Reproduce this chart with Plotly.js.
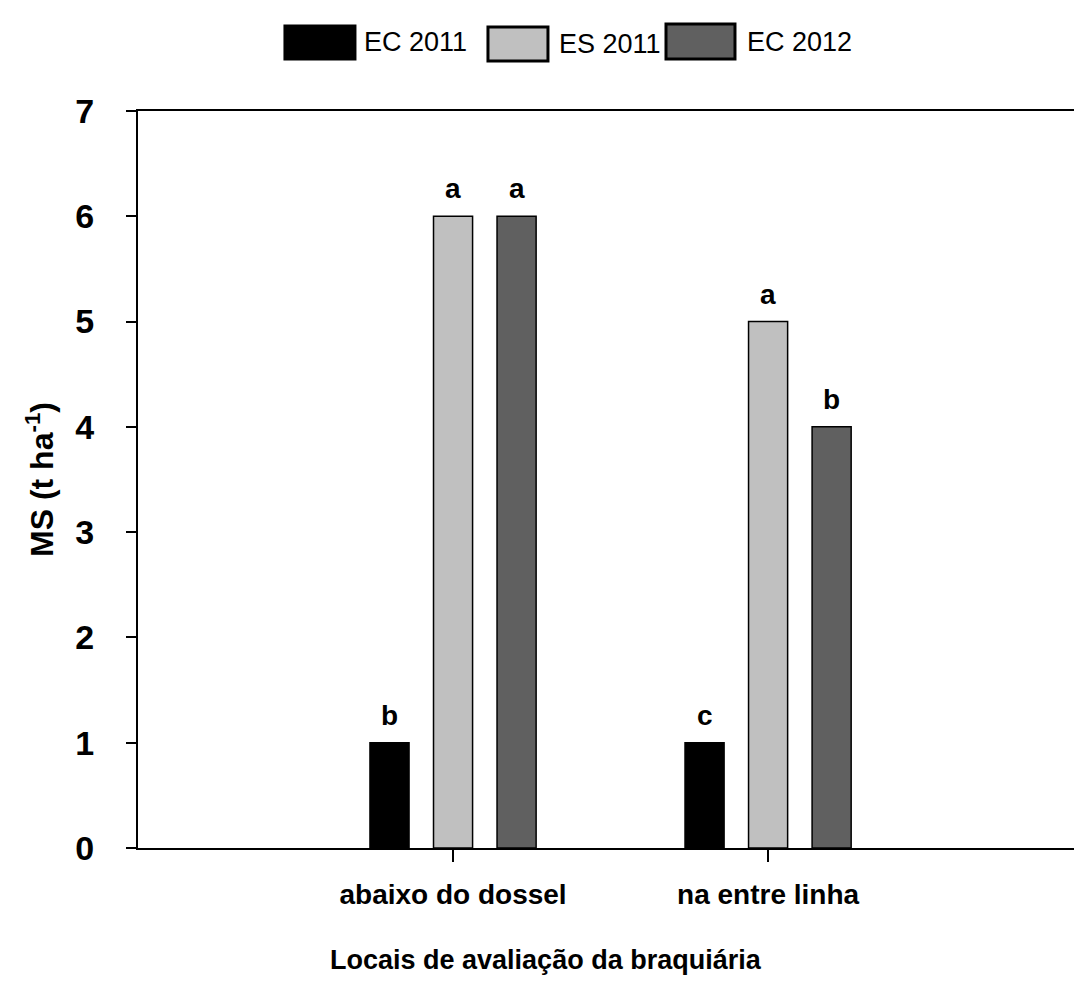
<!DOCTYPE html>
<html>
<head>
<meta charset="utf-8">
<script src="https://cdn.plot.ly/plotly-3.0.1.min.js"></script>
<style>html,body{margin:0;padding:0;background:#fff;}</style>
</head>
<body>
<div id="chart" style="width:1074px;height:1001px;"></div>
<script>
var categories = ["abaixo do dossel", "na entre linha"];
var seriesNames = ["EC 2011", "ES 2011", "EC 2012"];
var ec2011 = [1, 1];
var es2011 = [6, 5];
var ec2012 = [6, 4];
var lettersEC2011 = ["b", "c"];
var lettersES2011 = ["a", "a"];
var lettersEC2012 = ["a", "b"];
var seriesColors = ["#000000", "#c0c0c0", "#606060"];
var yTicks = [0, 1, 2, 3, 4, 5, 6, 7];
var xTitle = "Locais de avaliação da braquiária";
var yTitle = "MS (t ha<sup>-1</sup>)";

var values = [ec2011, es2011, ec2012];
var letters = [lettersEC2011, lettersES2011, lettersEC2012];
var FONT = "'Liberation Sans', Arial, sans-serif";
var BARGAP = 0.395, BARGROUPGAP = 0.385;
var slot = (1 - BARGAP) / seriesNames.length;

var traces = seriesNames.map(function (name, i) {
  return {
    type: "bar",
    name: name,
    x: categories,
    y: values[i],
    marker: {color: seriesColors[i], line: {color: "#000", width: 1.5}},
    showlegend: false,
    hoverinfo: "x+y+name"
  };
});

var shapes = [];
var annotations = [];

// significance letters above bars
seriesNames.forEach(function (name, i) {
  var off = (i - (seriesNames.length - 1) / 2) * slot;
  categories.forEach(function (c, k) {
    annotations.push({xref: "x", yref: "y", x: k + off, y: values[i][k], yanchor: "bottom", xanchor: "center",
      yshift: 10, showarrow: false, text: letters[i][k],
      font: {family: FONT, size: 28, color: "#000", weight: "bold"}});
  });
});

// custom legend (large swatches as in the reference)
var legendBoxes = [[0.157, 0.2318, 1.0706, 1.1153], [0.3739, 0.438, 1.0678, 1.114], [0.5641, 0.6378, 1.0706, 1.118]];
var legendTextX = [0.2393, 0.4476, 0.6485];
seriesNames.forEach(function (name, i) {
  var b = legendBoxes[i];
  shapes.push({type: "rect", xref: "paper", yref: "paper", x0: b[0], x1: b[1], y0: b[2], y1: b[3],
    fillcolor: seriesColors[i], line: {color: "#000", width: 3}});
  annotations.push({xref: "paper", yref: "paper", x: legendTextX[i], y: (b[2] + b[3]) / 2,
    xanchor: "left", yanchor: "middle", showarrow: false, text: name,
    font: {family: FONT, size: 27, color: "#000"}});
});
annotations.push({xref: "paper", yref: "paper", x: 0.436, y: -0.152, xanchor: "center", yanchor: "middle",
  showarrow: false, text: xTitle, font: {family: FONT, size: 27, color: "#000", weight: "bold"}});

var layout = {
  width: 1074,
  height: 1001,
  margin: {l: 138, r: 0, t: 111, b: 153, pad: 0},
  paper_bgcolor: "#fff",
  plot_bgcolor: "#fff",
  barmode: "group",
  bargap: BARGAP,
  bargroupgap: BARGROUPGAP,
  showlegend: false,
  font: {family: FONT, color: "#000"},
  xaxis: {
    type: "category",
    range: [-1, 1.971],
    showline: true, mirror: true, linecolor: "#000", linewidth: 2,
    ticks: "outside", ticklen: 12, tickwidth: 1.5, tickcolor: "#000",
    showgrid: false, zeroline: false,
    tickfont: {family: FONT, size: 28, color: "#000", weight: "bold"},
    ticklabelstandoff: 8,
    fixedrange: true
  },
  yaxis: {
    range: [0, 7],
    tickvals: yTicks,
    ticktext: yTicks.map(String),
    showline: true, linecolor: "#000", linewidth: 2,
    ticks: "outside", ticklen: 10, tickwidth: 2, tickcolor: "#000",
    showgrid: false, zeroline: false,
    tickfont: {family: FONT, size: 34, color: "#000", weight: "bold"},
    ticklabelstandoff: 25,
    automargin: false,
    title: {text: yTitle, standoff: 12, font: {family: FONT, size: 32, color: "#000", weight: "bold"}},
    fixedrange: true
  },
  shapes: shapes,
  annotations: annotations
};

Plotly.newPlot("chart", traces, layout, {displayModeBar: false, staticPlot: true});
</script>
</body>
</html>
